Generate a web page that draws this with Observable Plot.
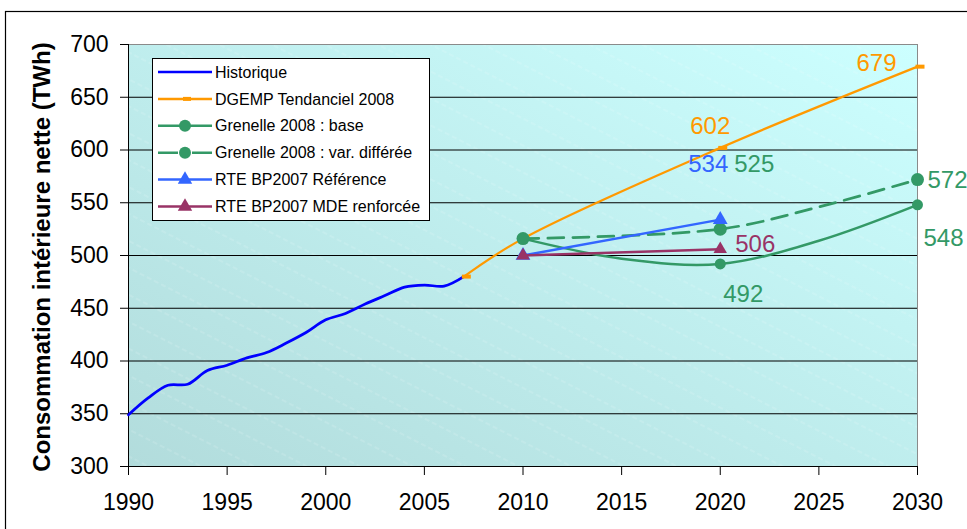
<!DOCTYPE html>
<html><head><meta charset="utf-8">
<script src="https://cdn.jsdelivr.net/npm/d3@7"></script>
<script src="https://cdn.jsdelivr.net/npm/@observablehq/plot@0.6"></script>
<style>body{margin:0;background:#fff;} svg{display:block}</style>
</head><body><div id="chart"></div>
<script>
// ---- data ----
const histYears = [1990,1991,1992,1993,1994,1995,1996,1997,1998,1999,2000,2001,2002,2003,2004,2005,2006,2007];
const histValues = [349,365,377,378,391,396,403,408,417,427,439,445,454,462,470,472,471,480];
const dgempYears = [2007,2010,2020,2030];
const dgempValues = [480,516,602,679];
const grenBaseYears = [2010,2015,2020,2025,2030];
const grenBaseValues = [516,497,492,514,548];
const grenBaseMarkerYears = [2010,2020,2030];
const grenBaseMarkerValues = [516,492,548];
const grenDiffYears = [2010,2020,2025,2030];
const grenDiffValues = [516,525,546,572];
const grenDiffMarkerYears = [2010,2020,2030];
const grenDiffMarkerValues = [516,525,572];
const rteRefYears = [2010,2020];
const rteRefValues = [500,534];
const rteMdeYears = [2010,2020];
const rteMdeValues = [500,506];
const seriesNames = ["Historique","DGEMP Tendanciel 2008","Grenelle 2008 : base","Grenelle 2008 : var. différée","RTE BP2007 Référence","RTE BP2007 MDE renforcée"];
const labelSeries = [1,1,4,3,5,2,3,2];
const labelYears  = [2030,2020,2020,2020,2020,2020,2030,2030];
const labelValues = [679,602,534,525,506,492,572,548];
const xTicks = [1990,1995,2000,2005,2010,2015,2020,2025,2030];
const yTicks = [300,350,400,450,500,550,600,650,700];
const gridValues = [350,400,450,500,550,600,650];
const yTitle = "Consommation intérieure nette (TWh)";

// ---- styles ----
const colors = ["#0000ff","#ff9900","#339966","#339966","#3366ff","#993366"];
const labelOffsets = [[-41,-3],[-10,-22],[-12,-55],[34,-65],[35,-5],[23,30],[30,1],[26,33]];
const font = "'Liberation Sans', Arial, sans-serif";
const pts = (xs, ys) => xs.map((x,i)=>({x, y: ys[i]}));
const dashSymbol = {draw(ctx){ ctx.moveTo(-2,-2); ctx.lineTo(7,-2); ctx.lineTo(7,2); ctx.lineTo(-2,2); ctx.closePath(); }};

const hist = pts(histYears, histValues);
const dgemp = pts(dgempYears, dgempValues);
const gBase = pts(grenBaseYears, grenBaseValues);
const gBaseM = pts(grenBaseMarkerYears, grenBaseMarkerValues);
const gDiff = pts(grenDiffYears, grenDiffValues);
const gDiffM = pts(grenDiffMarkerYears, grenDiffMarkerValues);
const rRef = pts(rteRefYears, rteRefValues);
const rMde = pts(rteMdeYears, rteMdeValues);

const labelMarks = labelValues.map((v,i)=> Plot.text([i], {
  x: j=>labelYears[j], y: j=>labelValues[j], text: j=>String(labelValues[j]),
  fill: colors[labelSeries[i]], dx: labelOffsets[i][0], dy: labelOffsets[i][1],
  fontSize: 24, textAnchor: "middle"
}));

const svgEl = Plot.plot({
  width: 967, height: 529,
  marginLeft: 128, marginRight: 50, marginTop: 44, marginBottom: 63,
  style: {fontFamily: font, background: "white", overflow: "visible"},
  x: {domain: [1990, 2030]},
  y: {domain: [300, 700]},
  marks: [
    Plot.frame({fill: "url(#bgGrad)", stroke: "none"}),
    Plot.frame({fill: "url(#hatch)", stroke: "none"}),
    Plot.frame({stroke: "#8a8a8a", strokeWidth: 1}),
    Plot.ruleY(gridValues, {stroke: "#000", strokeWidth: 1}),
    Plot.ruleY([300], {stroke: "#000", strokeWidth: 1}),
    Plot.ruleX([1990], {stroke: "#000", strokeWidth: 1}),
    Plot.line(hist, {x:"x", y:"y", stroke: colors[0], strokeWidth: 2.75, curve: "catmull-rom"}),
    Plot.line(dgemp, {x:"x", y:"y", stroke: colors[1], strokeWidth: 2.25, curve: "catmull-rom"}),
    Plot.dot(dgemp, {x:"x", y:"y", fill: colors[1], symbol: dashSymbol, r: 3}),
    Plot.line(gBase, {x:"x", y:"y", stroke: colors[2], strokeWidth: 2.5, curve: "catmull-rom"}),
    Plot.dot(gBaseM, {x:"x", y:"y", fill: colors[2], r: 5.5}),
    Plot.line(gDiff, {x:"x", y:"y", stroke: colors[3], strokeWidth: 2.75, strokeDasharray: "16,9", curve: "catmull-rom"}),
    Plot.dot(gDiffM, {x:"x", y:"y", fill: colors[3], r: 6.5}),
    Plot.line(rRef, {x:"x", y:"y", stroke: colors[4], strokeWidth: 2.5}),
    Plot.dot(rRef, {x:"x", y:"y", fill: colors[4], symbol: "triangle", r: 5.5}),
    Plot.line(rMde, {x:"x", y:"y", stroke: colors[5], strokeWidth: 2.5}),
    Plot.dot(rMde, {x:"x", y:"y", fill: colors[5], symbol: "triangle", r: 5}),
    ...labelMarks,
    Plot.axisX({ticks: xTicks, tickFormat: d=>String(d), tickSize: 9, tickPadding: 18, fontSize: 23, label: null}),
    Plot.axisY({ticks: yTicks, tickSize: 8, tickPadding: 12, fontSize: 23, label: null})
  ]
});

const svg = d3.select(svgEl);
const defs = svg.insert("defs", ":first-child");
const grad = defs.append("linearGradient").attr("id","bgGrad")
  .attr("x1","0").attr("y1","1").attr("x2","1").attr("y2","0");
grad.append("stop").attr("offset","0").attr("stop-color","#b2dcdc");
grad.append("stop").attr("offset","1").attr("stop-color","#ccffff");
const pat = defs.append("pattern").attr("id","hatch").attr("patternUnits","userSpaceOnUse")
  .attr("width",40).attr("height",24).attr("patternTransform","rotate(27)");
pat.append("line").attr("x1",0).attr("y1",12).attr("x2",40).attr("y2",12)
  .attr("stroke","#ffffff").attr("stroke-opacity",0.3).attr("stroke-width",0.8).attr("stroke-dasharray","5,3");

// outer border
svg.append("rect").attr("x",5.5).attr("y",11.5).attr("width",1100).attr("height",1000)
  .attr("fill","none").attr("stroke","#000").attr("stroke-width",1.2);

// y title
svg.append("text").attr("transform","translate(42,257) rotate(-90)")
  .attr("text-anchor","middle").attr("dy","0.35em")
  .attr("font-family", font).attr("font-size",24).attr("font-weight","bold").attr("fill","#000")
  .text(yTitle);

// legend
const lg = svg.append("g").attr("font-family", font).attr("font-size", 16).attr("text-anchor","start");
lg.append("rect").attr("x",152.5).attr("y",58.5).attr("width",277).attr("height",162)
  .attr("fill","#fff").attr("stroke","#000").attr("stroke-width",1);
const markerKinds = [null,"dash","circle","circle","triangle","triangle"];
seriesNames.forEach((name,i)=>{
  const cy = 72 + i*26.9;
  lg.append("line").attr("x1",158).attr("x2",212).attr("y1",cy).attr("y2",cy)
    .attr("stroke",colors[i]).attr("stroke-width",2.5)
    .attr("stroke-dasharray", i===3 ? "20,14" : null);
  const k = markerKinds[i];
  if (k === "circle") lg.append("circle").attr("cx",185).attr("cy",cy).attr("r",6).attr("fill",colors[i]);
  else if (k === "triangle") lg.append("path").attr("transform",`translate(185,${cy})`)
    .attr("d", d3.symbol(d3.symbolTriangle, 90)()).attr("fill",colors[i]);
  else if (k === "dash") lg.append("rect").attr("x",183).attr("y",cy-2).attr("width",8).attr("height",4).attr("fill",colors[i]);
  lg.append("text").attr("x",215).attr("y",cy).attr("dy","0.35em").attr("text-anchor","start").attr("fill","#000").text(name);
});

document.getElementById("chart").appendChild(svgEl);
</script>
</body></html>
